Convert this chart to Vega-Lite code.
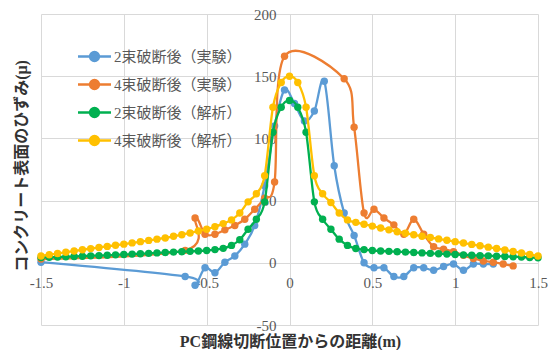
{
  "$schema": "https://vega.github.io/schema/vega-lite/v6.json",
  "width": 497,
  "height": 311,
  "autosize": {"type": "none"},
  "padding": {"left": 41, "top": 14, "right": 11, "bottom": 25},
  "background": "white",
  "config": {"view": {"stroke": null}},
  "data": {
    "values": [
      {"k": "a", "x": -1.5, "y": 0.5},
      {"k": "a", "x": -0.63, "y": -11},
      {"k": "a", "x": -0.57, "y": -18},
      {"k": "a", "x": -0.51, "y": -4},
      {"k": "a", "x": -0.45, "y": -8},
      {"k": "a", "x": -0.39, "y": 0.5},
      {"k": "a", "x": -0.33, "y": 5.5},
      {"k": "a", "x": -0.27, "y": 15},
      {"k": "a", "x": -0.21, "y": 30},
      {"k": "a", "x": -0.15, "y": 62},
      {"k": "a", "x": -0.09, "y": 110},
      {"k": "a", "x": -0.03, "y": 139},
      {"k": "a", "x": 0.03, "y": 128},
      {"k": "a", "x": 0.09, "y": 114},
      {"k": "a", "x": 0.15, "y": 122},
      {"k": "a", "x": 0.21, "y": 146},
      {"k": "a", "x": 0.27, "y": 78},
      {"k": "a", "x": 0.33, "y": 40},
      {"k": "a", "x": 0.39, "y": 22},
      {"k": "a", "x": 0.45, "y": 0},
      {"k": "a", "x": 0.51, "y": -4},
      {"k": "a", "x": 0.57, "y": -4},
      {"k": "a", "x": 0.63, "y": -11},
      {"k": "a", "x": 0.69, "y": -11},
      {"k": "a", "x": 0.75, "y": -4},
      {"k": "a", "x": 0.81, "y": -4},
      {"k": "a", "x": 0.87, "y": -6},
      {"k": "a", "x": 0.93, "y": -3},
      {"k": "a", "x": 0.99, "y": -1},
      {"k": "a", "x": 1.05, "y": -6},
      {"k": "a", "x": 1.11, "y": -1},
      {"k": "a", "x": 1.17, "y": -1},
      {"k": "a", "x": 1.23, "y": -1},
      {"k": "b", "x": -1.5, "y": 3},
      {"k": "b", "x": -0.63, "y": 10},
      {"k": "b", "x": -0.57, "y": 36},
      {"k": "b", "x": -0.51, "y": 23},
      {"k": "b", "x": -0.45, "y": 23},
      {"k": "b", "x": -0.39, "y": 26.5},
      {"k": "b", "x": -0.33, "y": 30},
      {"k": "b", "x": -0.27, "y": 35},
      {"k": "b", "x": -0.21, "y": 43},
      {"k": "b", "x": -0.15, "y": 52},
      {"k": "b", "x": -0.09, "y": 65},
      {"k": "b", "x": -0.03, "y": 166},
      {"k": "b", "x": 0.33, "y": 148},
      {"k": "b", "x": 0.39, "y": 109},
      {"k": "b", "x": 0.45, "y": 40},
      {"k": "b", "x": 0.51, "y": 43},
      {"k": "b", "x": 0.57, "y": 36},
      {"k": "b", "x": 0.63, "y": 30.5},
      {"k": "b", "x": 0.69, "y": 23},
      {"k": "b", "x": 0.75, "y": 35},
      {"k": "b", "x": 0.81, "y": 23},
      {"k": "b", "x": 0.87, "y": 13},
      {"k": "b", "x": 0.93, "y": 11},
      {"k": "b", "x": 0.99, "y": 9},
      {"k": "b", "x": 1.05, "y": 6},
      {"k": "b", "x": 1.11, "y": 3.5},
      {"k": "b", "x": 1.17, "y": 1.5},
      {"k": "b", "x": 1.23, "y": 0.5},
      {"k": "b", "x": 1.29, "y": -1},
      {"k": "b", "x": 1.35, "y": -2.5},
      {"k": "c", "x": -1.5, "y": 4.3},
      {"k": "c", "x": -1.45, "y": 4.5},
      {"k": "c", "x": -1.4, "y": 4.7},
      {"k": "c", "x": -1.35, "y": 4.9},
      {"k": "c", "x": -1.3, "y": 5.1},
      {"k": "c", "x": -1.25, "y": 5.3},
      {"k": "c", "x": -1.2, "y": 5.6},
      {"k": "c", "x": -1.15, "y": 5.8},
      {"k": "c", "x": -1.1, "y": 6.1},
      {"k": "c", "x": -1.05, "y": 6.4},
      {"k": "c", "x": -1, "y": 6.7},
      {"k": "c", "x": -0.95, "y": 7},
      {"k": "c", "x": -0.9, "y": 7.3},
      {"k": "c", "x": -0.85, "y": 7.6},
      {"k": "c", "x": -0.8, "y": 8},
      {"k": "c", "x": -0.75, "y": 8.3},
      {"k": "c", "x": -0.7, "y": 8.6},
      {"k": "c", "x": -0.65, "y": 8.9},
      {"k": "c", "x": -0.6, "y": 9.2},
      {"k": "c", "x": -0.55, "y": 9.5},
      {"k": "c", "x": -0.5, "y": 9.9},
      {"k": "c", "x": -0.45, "y": 10.6},
      {"k": "c", "x": -0.4, "y": 11.6},
      {"k": "c", "x": -0.35, "y": 14},
      {"k": "c", "x": -0.3, "y": 18.5},
      {"k": "c", "x": -0.25, "y": 27},
      {"k": "c", "x": -0.2, "y": 35},
      {"k": "c", "x": -0.15, "y": 49},
      {"k": "c", "x": -0.1, "y": 105},
      {"k": "c", "x": -0.05, "y": 125},
      {"k": "c", "x": 0, "y": 130.5},
      {"k": "c", "x": 0.05, "y": 125},
      {"k": "c", "x": 0.1, "y": 105},
      {"k": "c", "x": 0.15, "y": 49},
      {"k": "c", "x": 0.2, "y": 35},
      {"k": "c", "x": 0.25, "y": 27},
      {"k": "c", "x": 0.3, "y": 19},
      {"k": "c", "x": 0.35, "y": 14},
      {"k": "c", "x": 0.4, "y": 11.5},
      {"k": "c", "x": 0.45, "y": 10.6},
      {"k": "c", "x": 0.5, "y": 9.9},
      {"k": "c", "x": 0.55, "y": 9.5},
      {"k": "c", "x": 0.6, "y": 9.2},
      {"k": "c", "x": 0.65, "y": 8.9},
      {"k": "c", "x": 0.7, "y": 8.6},
      {"k": "c", "x": 0.75, "y": 8.3},
      {"k": "c", "x": 0.8, "y": 8},
      {"k": "c", "x": 0.85, "y": 7.6},
      {"k": "c", "x": 0.9, "y": 7.3},
      {"k": "c", "x": 0.95, "y": 7},
      {"k": "c", "x": 1, "y": 6.7},
      {"k": "c", "x": 1.05, "y": 6.4},
      {"k": "c", "x": 1.1, "y": 6.1},
      {"k": "c", "x": 1.15, "y": 5.8},
      {"k": "c", "x": 1.2, "y": 5.6},
      {"k": "c", "x": 1.25, "y": 5.3},
      {"k": "c", "x": 1.3, "y": 5.1},
      {"k": "c", "x": 1.35, "y": 4.9},
      {"k": "c", "x": 1.4, "y": 4.6},
      {"k": "c", "x": 1.45, "y": 4.3},
      {"k": "c", "x": 1.5, "y": 4},
      {"k": "d", "x": -1.5, "y": 5.5},
      {"k": "d", "x": -1.45, "y": 6.5},
      {"k": "d", "x": -1.4, "y": 7.5},
      {"k": "d", "x": -1.35, "y": 8.5},
      {"k": "d", "x": -1.3, "y": 9.5},
      {"k": "d", "x": -1.25, "y": 10.5},
      {"k": "d", "x": -1.2, "y": 11.4},
      {"k": "d", "x": -1.15, "y": 12.3},
      {"k": "d", "x": -1.1, "y": 13.2},
      {"k": "d", "x": -1.05, "y": 14.1},
      {"k": "d", "x": -1, "y": 15},
      {"k": "d", "x": -0.95, "y": 16},
      {"k": "d", "x": -0.9, "y": 17},
      {"k": "d", "x": -0.85, "y": 18},
      {"k": "d", "x": -0.8, "y": 19},
      {"k": "d", "x": -0.75, "y": 20},
      {"k": "d", "x": -0.7, "y": 21.3},
      {"k": "d", "x": -0.65, "y": 22.6},
      {"k": "d", "x": -0.6, "y": 24},
      {"k": "d", "x": -0.55, "y": 25.5},
      {"k": "d", "x": -0.5, "y": 27},
      {"k": "d", "x": -0.45, "y": 29},
      {"k": "d", "x": -0.4, "y": 31.5},
      {"k": "d", "x": -0.35, "y": 34.5},
      {"k": "d", "x": -0.3, "y": 40},
      {"k": "d", "x": -0.25, "y": 49},
      {"k": "d", "x": -0.2, "y": 55.5},
      {"k": "d", "x": -0.15, "y": 70},
      {"k": "d", "x": -0.1, "y": 125},
      {"k": "d", "x": -0.05, "y": 145},
      {"k": "d", "x": 0, "y": 150},
      {"k": "d", "x": 0.05, "y": 145},
      {"k": "d", "x": 0.1, "y": 125},
      {"k": "d", "x": 0.15, "y": 70},
      {"k": "d", "x": 0.2, "y": 55.5},
      {"k": "d", "x": 0.25, "y": 48.5},
      {"k": "d", "x": 0.3, "y": 40},
      {"k": "d", "x": 0.35, "y": 34.5},
      {"k": "d", "x": 0.4, "y": 32.5},
      {"k": "d", "x": 0.45, "y": 31},
      {"k": "d", "x": 0.5, "y": 29.5},
      {"k": "d", "x": 0.55, "y": 28},
      {"k": "d", "x": 0.6, "y": 26.5},
      {"k": "d", "x": 0.65, "y": 25},
      {"k": "d", "x": 0.7, "y": 23.8},
      {"k": "d", "x": 0.75, "y": 22.5},
      {"k": "d", "x": 0.8, "y": 21.4},
      {"k": "d", "x": 0.85, "y": 20.3},
      {"k": "d", "x": 0.9, "y": 19.2},
      {"k": "d", "x": 0.95, "y": 18.1},
      {"k": "d", "x": 1, "y": 17},
      {"k": "d", "x": 1.05, "y": 15.9},
      {"k": "d", "x": 1.1, "y": 14.8},
      {"k": "d", "x": 1.15, "y": 13.7},
      {"k": "d", "x": 1.2, "y": 12.6},
      {"k": "d", "x": 1.25, "y": 11.5},
      {"k": "d", "x": 1.3, "y": 10.3},
      {"k": "d", "x": 1.35, "y": 9.1},
      {"k": "d", "x": 1.4, "y": 7.9},
      {"k": "d", "x": 1.45, "y": 6.7},
      {"k": "d", "x": 1.5, "y": 5.5}
    ]
  },
  "encoding": {
    "x": {
      "field": "x",
      "type": "quantitative",
      "scale": {"domain": [-1.5, 1.5], "nice": false, "zero": false},
      "axis": {
        "orient": "bottom",
        "offset": -62.2,
        "values": [-1.5, -1, -0.5, 0, 0.5, 1, 1.5],
        "labelExpr": "toString(datum.value)",
        "grid": true,
        "gridColor": "#d9d9d9",
        "gridWidth": 1,
        "domain": false,
        "ticks": false,
        "tickSize": 0,
        "labelPadding": 13,
        "labelFont": "Liberation Serif",
        "labelFontSize": 15,
        "labelColor": "#595959",
        "labelFlush": false,
        "labelOverlap": false,
        "title": "PC鋼線切断位置からの距離(m)",
        "titleFont": "Liberation Serif, Noto Sans CJK JP",
        "titleFontSize": 16,
        "titleFontWeight": "bold",
        "titleColor": "#333333",
        "titleX": 249,
        "titleY": 79,
        "titleBaseline": "middle",
        "titleAlign": "center"
      }
    },
    "y": {
      "field": "y",
      "type": "quantitative",
      "scale": {"domain": [-50, 200], "nice": false, "zero": false},
      "axis": {
        "orient": "left",
        "offset": -248.5,
        "values": [-50, 0, 50, 100, 150, 200],
        "labelExpr": "toString(datum.value)",
        "grid": true,
        "gridColor": "#d9d9d9",
        "gridWidth": 1,
        "domain": false,
        "ticks": false,
        "tickSize": 0,
        "labelPadding": 13.5,
        "labelFont": "Liberation Serif",
        "labelFontSize": 15,
        "labelColor": "#595959",
        "labelFlush": false,
        "labelOverlap": false,
        "title": "コンクリート表面のひずみ(μ)",
        "titleFont": "Liberation Serif, Noto Sans CJK JP",
        "titleFontSize": 16,
        "titleFontWeight": "bold",
        "titleColor": "#333333",
        "titleX": -268,
        "titleY": 151.5,
        "titleAngle": -90,
        "titleBaseline": "middle",
        "titleAlign": "center"
      }
    },
    "color": {
      "field": "k",
      "type": "nominal",
      "scale": {"domain": ["a", "b", "c", "d"], "range": ["#5B9BD5", "#ED7D31", "#00B050", "#FFC000"]},
      "legend": {
        "orient": "none",
        "legendX": 46,
        "legendY": 35,
        "title": null,
        "symbolType": "M-3.3,0H3.3M-0.9,0A0.9,0.9 0 1 0 0.9,0A0.9,0.9 0 1 0 -0.9,0Z",
        "symbolSize": 100,
        "symbolStrokeWidth": 2.3,
        "symbolOpacity": 1,
        "labelFont": "Liberation Serif, Noto Sans CJK JP",
        "labelFontSize": 15,
        "labelColor": "#595959",
        "labelOffset": 12,
        "rowPadding": 9,
        "labelExpr": "datum.label == 'a' ? '2束破断後（実験）' : datum.label == 'b' ? '4束破断後（実験）' : datum.label == 'c' ? '2束破断後（解析）' : '4束破断後（解析）'",
        "encode": {
          "symbols": {
            "update": {
              "fill": {"scale": "color", "field": "value"},
              "stroke": {"scale": "color", "field": "value"}
            }
          }
        }
      }
    }
  },
  "layer": [
    {
      "transform": [{"filter": "datum.k == 'a'"}],
      "mark": {"type": "line", "interpolate": "cardinal", "strokeWidth": 2.3, "point": {"filled": true, "size": 55, "opacity": 1}}
    },
    {
      "transform": [{"filter": "datum.k == 'b'"}],
      "mark": {"type": "line", "interpolate": "cardinal", "strokeWidth": 2.3, "point": {"filled": true, "size": 55, "opacity": 1}}
    },
    {
      "transform": [{"filter": "datum.k == 'c'"}],
      "mark": {"type": "line", "interpolate": "cardinal", "strokeWidth": 2.3, "point": {"filled": true, "size": 55, "opacity": 1}}
    },
    {
      "transform": [{"filter": "datum.k == 'd'"}],
      "mark": {"type": "line", "interpolate": "cardinal", "strokeWidth": 2.3, "point": {"filled": true, "size": 55, "opacity": 1}}
    }
  ]
}
